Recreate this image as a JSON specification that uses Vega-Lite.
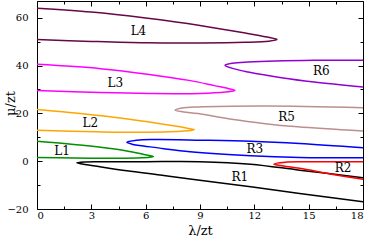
{
  "$schema": "https://vega.github.io/schema/vega-lite/v6.json",
  "width": 326,
  "height": 208,
  "autosize": "none",
  "padding": {"left": 37, "top": 1, "right": 8, "bottom": 31},
  "background": "white",
  "config": {
    "view": {"stroke": "#000", "strokeWidth": 1},
    "axis": {"grid": false, "domain": false, "tickColor": "#000", "labelColor": "#000", "titleColor": "#000", "labelFont": "DejaVu Serif", "titleFont": "DejaVu Serif", "labelFontSize": 10, "titleFontSize": 13, "titleFontWeight": "normal"}
  },
  "datasets": {
    "curves": [
      {"c":"L4","i":0,"x":0,"y":64.0},{"c":"L4","i":1,"x":3,"y":62.4},{"c":"L4","i":2,"x":6,"y":59.9},{"c":"L4","i":3,"x":9,"y":56.8},{"c":"L4","i":4,"x":11.5,"y":53.6},{"c":"L4","i":5,"x":12.7,"y":51.9},{"c":"L4","i":6,"x":13.25,"y":50.9},{"c":"L4","i":7,"x":12.8,"y":50.2},{"c":"L4","i":8,"x":11.5,"y":49.7},{"c":"L4","i":9,"x":9,"y":49.4},{"c":"L4","i":10,"x":6,"y":49.5},{"c":"L4","i":11,"x":3,"y":50.1},{"c":"L4","i":12,"x":0,"y":50.9},
      {"c":"L3","i":0,"x":0,"y":40.5},{"c":"L3","i":1,"x":3.5,"y":38.7},{"c":"L3","i":2,"x":6.2,"y":36.3},{"c":"L3","i":3,"x":8.4,"y":33.8},{"c":"L3","i":4,"x":9.8,"y":31.6},{"c":"L3","i":5,"x":10.6,"y":30.3},{"c":"L3","i":6,"x":10.93,"y":29.6},{"c":"L3","i":7,"x":10.4,"y":28.9},{"c":"L3","i":8,"x":9,"y":28.3},{"c":"L3","i":9,"x":6.2,"y":28.3},{"c":"L3","i":10,"x":3.5,"y":28.7},{"c":"L3","i":11,"x":0,"y":29.6},
      {"c":"L2","i":0,"x":0,"y":21.6},{"c":"L2","i":1,"x":2.4,"y":19.9},{"c":"L2","i":2,"x":5.1,"y":17.5},{"c":"L2","i":3,"x":7.35,"y":15.0},{"c":"L2","i":4,"x":8.3,"y":13.8},{"c":"L2","i":5,"x":8.69,"y":13.2},{"c":"L2","i":6,"x":8.1,"y":12.6},{"c":"L2","i":7,"x":6,"y":12.1},{"c":"L2","i":8,"x":3.3,"y":12.3},{"c":"L2","i":9,"x":0,"y":12.9},
      {"c":"L1","i":0,"x":0,"y":8.35},{"c":"L1","i":1,"x":1.5,"y":7.4},{"c":"L1","i":2,"x":3.3,"y":6.0},{"c":"L1","i":3,"x":4.96,"y":4.3},{"c":"L1","i":4,"x":5.9,"y":2.8},{"c":"L1","i":5,"x":6.43,"y":1.9},{"c":"L1","i":6,"x":5.8,"y":1.4},{"c":"L1","i":7,"x":4.0,"y":1.2},{"c":"L1","i":8,"x":2,"y":1.3},{"c":"L1","i":9,"x":0,"y":1.55},
      {"c":"R1","i":0,"x":18,"y":-6.9},{"c":"R1","i":1,"x":14.5,"y":-3.75},{"c":"R1","i":2,"x":11.8,"y":-1.25},{"c":"R1","i":3,"x":9,"y":-0.2},{"c":"R1","i":4,"x":6,"y":-0.2},{"c":"R1","i":5,"x":3.5,"y":-0.25},{"c":"R1","i":6,"x":2.6,"y":-0.35},{"c":"R1","i":7,"x":2.2,"y":-0.7},{"c":"R1","i":8,"x":2.5,"y":-1.2},{"c":"R1","i":9,"x":3.12,"y":-1.9},{"c":"R1","i":10,"x":4.96,"y":-4.0},{"c":"R1","i":11,"x":6.8,"y":-5.8},{"c":"R1","i":12,"x":8.45,"y":-7.5},{"c":"R1","i":13,"x":11.8,"y":-10.7},{"c":"R1","i":14,"x":14.5,"y":-13.5},{"c":"R1","i":15,"x":18,"y":-17.0},
      {"c":"R2","i":0,"x":18,"y":-0.25},{"c":"R2","i":1,"x":15,"y":-0.25},{"c":"R2","i":2,"x":13.7,"y":-0.4},{"c":"R2","i":3,"x":13.08,"y":-1.25},{"c":"R2","i":4,"x":13.6,"y":-2.0},{"c":"R2","i":5,"x":14.5,"y":-3.0},{"c":"R2","i":6,"x":16.35,"y":-5.55},{"c":"R2","i":7,"x":18,"y":-7.6},
      {"c":"R3","i":0,"x":18,"y":5.6},{"c":"R3","i":1,"x":14.5,"y":7.4},{"c":"R3","i":2,"x":11.8,"y":8.35},{"c":"R3","i":3,"x":9,"y":8.8},{"c":"R3","i":4,"x":6.5,"y":9.06},{"c":"R3","i":5,"x":5.5,"y":8.8},{"c":"R3","i":6,"x":4.96,"y":7.9},{"c":"R3","i":7,"x":5.3,"y":7.0},{"c":"R3","i":8,"x":5.88,"y":6.4},{"c":"R3","i":9,"x":7,"y":5.2},{"c":"R3","i":10,"x":8.45,"y":3.9},{"c":"R3","i":11,"x":11.8,"y":2.25},{"c":"R3","i":12,"x":14.5,"y":1.55},{"c":"R3","i":13,"x":18,"y":1.4},
      {"c":"R5","i":0,"x":18,"y":22.4},{"c":"R5","i":1,"x":12.6,"y":23.1},{"c":"R5","i":2,"x":8.9,"y":22.7},{"c":"R5","i":3,"x":8.0,"y":22.2},{"c":"R5","i":4,"x":7.62,"y":21.3},{"c":"R5","i":5,"x":8.1,"y":20.6},{"c":"R5","i":6,"x":8.9,"y":19.9},{"c":"R5","i":7,"x":10.75,"y":17.5},{"c":"R5","i":8,"x":12.6,"y":15.7},{"c":"R5","i":9,"x":14.4,"y":14.4},{"c":"R5","i":10,"x":18,"y":12.6},
      {"c":"R6","i":0,"x":18,"y":42.2},{"c":"R6","i":1,"x":15.3,"y":42.2},{"c":"R6","i":2,"x":11.66,"y":41.5},{"c":"R6","i":3,"x":10.8,"y":41.0},{"c":"R6","i":4,"x":10.38,"y":40.1},{"c":"R6","i":5,"x":10.9,"y":38.6},{"c":"R6","i":6,"x":11.66,"y":37.3},{"c":"R6","i":7,"x":13.5,"y":34.9},{"c":"R6","i":8,"x":15.3,"y":33.1},{"c":"R6","i":9,"x":18,"y":31.0}
    ],
    "labels": [
      {"t":"L4","x":5.6,"y":54.4},{"t":"L3","x":4.32,"y":32.7},{"t":"L2","x":2.94,"y":16.0},{"t":"L1","x":1.38,"y":4.3},
      {"t":"R1","x":11.2,"y":-6.5},{"t":"R2","x":16.9,"y":-3.0},{"t":"R3","x":12.03,"y":4.9},{"t":"R5","x":13.78,"y":18.5},{"t":"R6","x":15.7,"y":37.7}
    ]
  },
  "layer": [
    {
      "data": {"name": "curves"},
      "mark": {"type": "line", "interpolate": "catmull-rom", "strokeWidth": 1.5, "clip": true},
      "encoding": {
        "x": {"field": "x", "type": "quantitative", "scale": {"domain": [0, 18], "nice": false, "zero": false},
          "axis": {"orient": "bottom", "values": [0,3,6,9,12,15,18], "title": "λ/zt", "tickSize": -5, "labelPadding": 6, "titleX": 163, "titleY": 15, "titleBaseline": "top"}},
        "y": {"field": "y", "type": "quantitative", "scale": {"domain": [-20, 67], "nice": false, "zero": false},
          "axis": {"orient": "left", "values": [-20,0,20,40,60], "title": "μ/zt", "tickSize": -5, "labelPadding": 14, "titleX": -20, "titleY": 102, "titleBaseline": "bottom", "titleAngle": -90}},
        "color": {"field": "c", "type": "nominal", "legend": null,
          "scale": {"domain": ["L1","L2","L3","L4","R1","R2","R3","R5","R6"], "range": ["#009000","#ffa500","#ff00ff","#670748","#000000","#ff0000","#0000ff","#bc8f8f","#9400d3"]}},
        "order": {"field": "i", "type": "quantitative"}
      }
    },
    {
      "data": {"name": "labels"},
      "mark": {"type": "text", "font": "DejaVu Serif", "fontSize": 12, "color": "#000", "align": "center", "baseline": "middle"},
      "encoding": {
        "x": {"field": "x", "type": "quantitative", "scale": {"domain": [0, 18], "nice": false, "zero": false},
          "axis": {"orient": "top", "values": [0,3,6,9,12,15,18], "title": null, "labels": false, "tickSize": -5}},
        "y": {"field": "y", "type": "quantitative", "scale": {"domain": [-20, 67], "nice": false, "zero": false},
          "axis": {"orient": "right", "values": [-20,0,20,40,60], "title": null, "labels": false, "tickSize": -5}},
        "text": {"field": "t"}
      }
    },
    {
      "data": {"name": "labels"},
      "mark": {"type": "point", "opacity": 0},
      "encoding": {
        "x": {"field": "x", "type": "quantitative", "scale": {"domain": [0, 18], "nice": false, "zero": false},
          "axis": {"orient": "bottom", "values": [1.5,4.5,7.5,10.5,13.5,16.5], "title": null, "labels": false, "tickSize": -3}},
        "y": {"field": "y", "type": "quantitative", "scale": {"domain": [-20, 67], "nice": false, "zero": false},
          "axis": {"orient": "left", "values": [-10,10,30,50], "title": null, "labels": false, "tickSize": -3}}
      }
    },
    {
      "data": {"name": "labels"},
      "mark": {"type": "point", "opacity": 0},
      "encoding": {
        "x": {"field": "x", "type": "quantitative", "scale": {"domain": [0, 18], "nice": false, "zero": false},
          "axis": {"orient": "top", "values": [1.5,4.5,7.5,10.5,13.5,16.5], "title": null, "labels": false, "tickSize": -3}},
        "y": {"field": "y", "type": "quantitative", "scale": {"domain": [-20, 67], "nice": false, "zero": false},
          "axis": {"orient": "right", "values": [-10,10,30,50], "title": null, "labels": false, "tickSize": -3}}
      }
    }
  ],
  "resolve": {"axis": {"x": "independent", "y": "independent"}}
}
